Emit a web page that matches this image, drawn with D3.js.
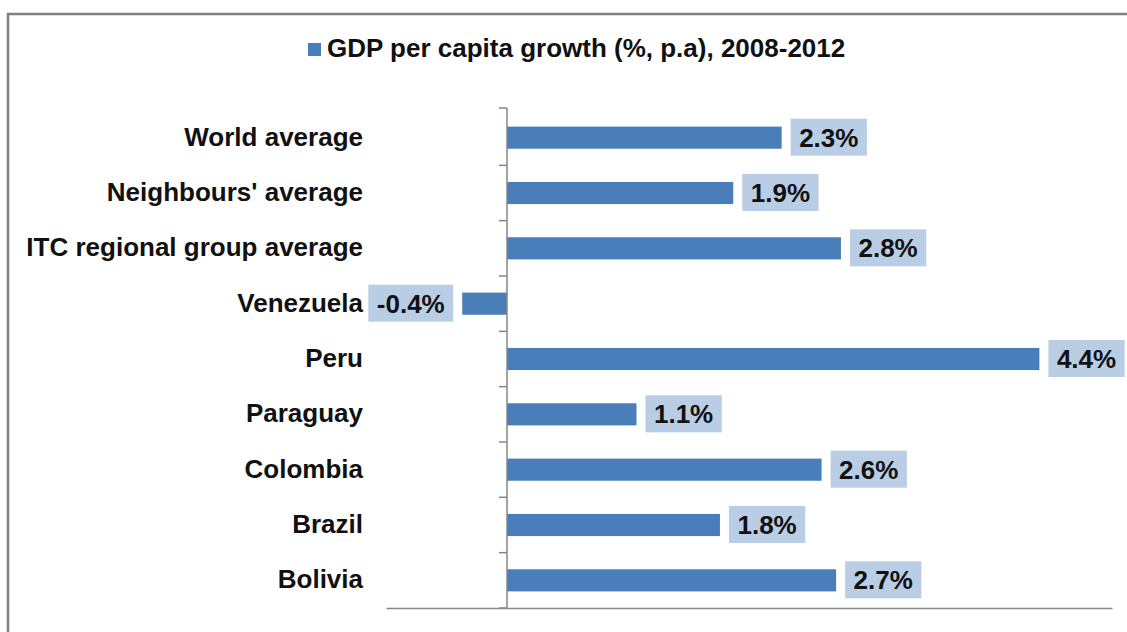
<!DOCTYPE html>
<html>
<head>
<meta charset="utf-8">
<script src="https://cdn.jsdelivr.net/npm/d3@7"></script>
<style>
  html, body { margin: 0; padding: 0; background: #fff; }
  svg { display: block; font-family: "Liberation Sans", Arial, sans-serif; }
</style>
</head>
<body>
<div id="chart"></div>
<script>
'use strict';

// data (bar lengths; labels are rounded to 1 decimal)
var categories = ['World average', "Neighbours' average", 'ITC regional group average',
  'Venezuela', 'Peru', 'Paraguay', 'Colombia', 'Brazil', 'Bolivia']
var growth = [2.27, 1.87, 2.76, -0.37, 4.40, 1.07, 2.60, 1.76, 2.72]
var seriesName = 'GDP per capita growth (%, p.a), 2008-2012'
var xDomain = [-1, 5]

var settings = {}
settings.bar_color = '#4a7ebb'
settings.label_fill = '#b9cde5'
settings.axis_color = '#868686'
settings.font_size = '26px'

var width = 1127, height = 632

var svg = d3.select('#chart').append('svg')
    .attr('width', width)
    .attr('height', height)

// chart frame (runs off the right and bottom edges)
svg.append('rect')
    .attr('x', 8)
    .attr('y', 14)
    .attr('width', width + 20)
    .attr('height', height + 20)
    .attr('fill', 'none')
    .attr('stroke', '#808080')
    .attr('stroke-width', 2.5)

var x = d3.scaleLinear()
    .domain(xDomain)
    .range([386, 1112])

var y = d3.scaleBand()
    .domain(categories)
    .range([110, 608])
    .paddingInner(0.6)
    .paddingOuter(0.3)

var gap = (y.step() - y.bandwidth()) / 2

// legend
var legend = svg.append('g')
legend.append('rect')
    .attr('x', 308)
    .attr('y', 43)
    .attr('width', 13)
    .attr('height', 13)
    .attr('fill', settings.bar_color)
legend.append('text')
    .attr('x', 327)
    .attr('y', 57)
    .text(seriesName)
    .attr('font-size', settings.font_size)
    .attr('font-weight', 'bold')
    .attr('fill', '#111')

// bars
svg.selectAll('.bar')
    .data(categories)
  .enter().append('rect')
    .attr('class', 'bar')
    .attr('x', function(d, i) { return x(Math.min(0, growth[i])) })
    .attr('y', function(d) { return y(d) })
    .attr('width', function(d, i) { return Math.abs(x(growth[i]) - x(0)) })
    .attr('height', y.bandwidth())
    .attr('fill', settings.bar_color)

// bottom axis line
svg.append('g')
    .attr('transform', 'translate(0,' + y.range()[1] + ')')
    .call(d3.axisBottom(x).ticks(0).tickSizeOuter(0))
    .call(function(g) {
      g.select('.domain').attr('stroke', settings.axis_color).attr('stroke-width', 1.5)
    })

// vertical category axis at zero
var yAxis = svg.append('g')
yAxis.append('line')
    .attr('x1', x(0)).attr('x2', x(0))
    .attr('y1', y.range()[0] - 2).attr('y2', y.range()[1])
    .attr('stroke', settings.axis_color)
    .attr('stroke-width', 1.5)
var boundaries = categories.map(function(d) { return y(d) - gap })
boundaries.push(y.range()[1])
yAxis.selectAll('.tick')
    .data(boundaries)
  .enter().append('line')
    .attr('class', 'tick')
    .attr('x1', x(0) - 8).attr('x2', x(0))
    .attr('y1', function(d, i) { return i === 0 ? d - 2 : d })
    .attr('y2', function(d, i) { return i === 0 ? d - 2 : d })
    .attr('stroke', settings.axis_color)
    .attr('stroke-width', 1.5)

// category labels
svg.selectAll('.cat')
    .data(categories)
  .enter().append('text')
    .attr('class', 'cat')
    .attr('x', x(xDomain[0]) - 23)
    .attr('y', function(d) { return y(d) + y.bandwidth() / 2 + 8 })
    .attr('text-anchor', 'end')
    .attr('font-size', settings.font_size)
    .attr('font-weight', 'bold')
    .attr('fill', '#111')
    .text(function(d) { return d })

// value labels in boxes (plain hyphen for negatives, like the original)
function fmt(v) { return v.toFixed(1) + '%' }
var labels = svg.selectAll('.val')
    .data(categories)
  .enter().append('g')
    .attr('class', 'val')

labels.each(function(d, i) {
  var g = d3.select(this)
  var v = growth[i]
  var cy = y(d) + y.bandwidth() / 2
  var box = g.append('rect')
      .attr('fill', settings.label_fill)
  var t = g.append('text')
      .text(fmt(v))
      .attr('font-size', settings.font_size)
      .attr('font-weight', 'bold')
      .attr('fill', '#111')
      .attr('y', cy + 9)
  var w = t.node().getComputedTextLength() + 17
  var bx = v >= 0 ? x(v) + 9 : x(v) - 9 - w
  box.attr('x', bx)
      .attr('y', cy - 19)
      .attr('width', w)
      .attr('height', 37)
  t.attr('x', bx + 8.5)
})
</script>
</body>
</html>
